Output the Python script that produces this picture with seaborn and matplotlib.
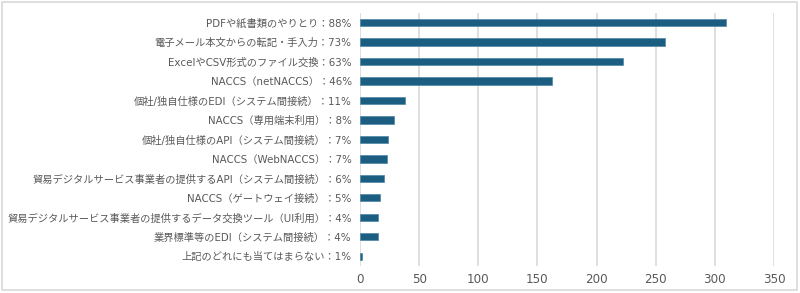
import matplotlib
matplotlib.use("Agg")
import matplotlib.pyplot as plt
import seaborn as sns
import pandas as pd

# Values
labels = [
    "PDFや紙書類のやりとり：88%",
    "電子メール本文からの転記・手入力：73%",
    "ExcelやCSV形式のファイル交換：63%",
    "NACCS（netNACCS）：46%",
    "個社/独自仕様のEDI（システム間接続）：11%",
    "NACCS（専用端末利用）：8%",
    "個社/独自仕様のAPI（システム間接続）：7%",
    "NACCS（WebNACCS）：7%",
    "貿易デジタルサービス事業者の提供するAPI（システム間接続）：6%",
    "NACCS（ゲートウェイ接続）：5%",
    "貿易デジタルサービス事業者の提供するデータ交換ツール（UI利用）：4%",
    "業界標準等のEDI（システム間接続）：4%",
    "上記のどれにも当てはまらない：1%",
]
counts = [309, 258, 222, 162, 38, 29, 24, 23, 20, 17, 15, 15, 2]
x_ticks = [0, 50, 100, 150, 200, 250, 300, 350]

df = pd.DataFrame({"label": labels, "count": counts})

sns.set_theme(style="white")
plt.rcParams['font.family'] = ['DejaVu Sans', 'Noto Sans CJK JP']

fig = plt.figure(figsize=(8, 2.93), dpi=100)
ax = fig.add_axes([0.45, 0.092, 0.5175, 0.864])

sns.barplot(data=df, x="count", y="label", color="#1B5E82", width=0.37,
            saturation=1, edgecolor="#4f87a5", linewidth=0.5, ax=ax, zorder=3)

ax.set_xlim(0, 350)
ax.set_xticks(x_ticks)
ax.grid(axis="x", color="#d9d9d9", linewidth=1.2, zorder=0)
ax.set_axisbelow(True)
for s in ax.spines.values():
    s.set_visible(False)
ax.set_xlabel("")
ax.set_ylabel("")
ax.tick_params(axis="both", length=0, labelsize=7.4, colors="#595959")
ax.tick_params(axis="y", pad=6)
ax.tick_params(axis="x", labelsize=8.6, pad=5)

# light frame around the whole chart
fig.patches.append(plt.Rectangle((0.002, 0.01), 0.994, 0.984, transform=fig.transFigure,
                                 fill=False, edgecolor="#d9d9d9", linewidth=1.2))

fig.savefig("out.png", dpi=100)
